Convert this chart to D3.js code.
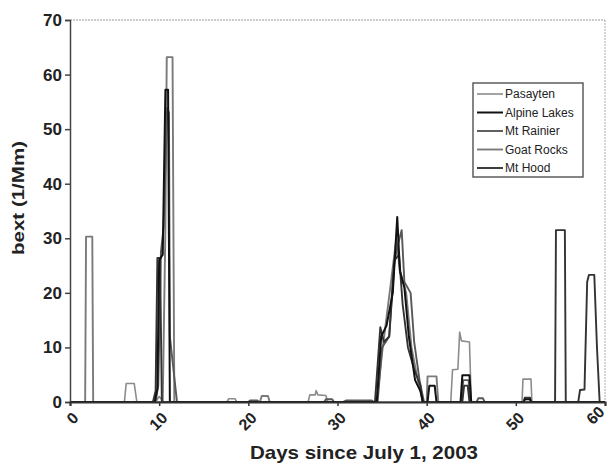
<!DOCTYPE html>
<html>
<head>
<meta charset="utf-8">
<script src="https://cdn.jsdelivr.net/npm/d3@7"></script>
<style>
  body { margin: 0; background: #fff; }
  svg { display: block; font-family: "Liberation Sans", Arial, sans-serif; }
</style>
</head>
<body>
<svg width="610" height="464"></svg>
<script>
// values, [day, bext]
const pasayten = [[0,0],[6.1,0],[6.3,3.4],[7.2,3.4],[7.5,0],[9.6,0],[10.0,1.0],[10.5,0],
  [17.6,0],[17.8,0.6],[18.5,0.6],[18.7,0],[26.7,0],[26.9,1.3],[27.5,1.3],[27.6,2.1],[27.8,1.3],[28.7,1.2],[28.9,0],
  [42.7,0],[42.9,5.9],[43.5,6.0],[43.7,12.8],[43.9,11.2],[44.8,11.0],[45.0,0],
  [50.7,0],[50.8,4.2],[51.7,4.2],[51.8,0],[60,0]];
const alpineLakes = [[0,0],[9.5,0],[9.8,2.5],[10.0,26.0],[10.4,27.0],[10.7,57.2],[11.0,57.2],[11.2,0],
  [34.4,0],[34.9,12.0],[35.5,14.0],[36.2,20.0],[36.7,33.9],[37.0,24.0],[37.5,21.0],[38.0,12.0],[38.7,4.0],[39.3,2.0],[39.6,0],
  [40.1,0],[40.3,3.0],[40.9,3.0],[41.1,0],[43.8,0],[44.0,4.9],[44.8,4.9],[45.0,0],
  [50.9,0],[51.0,0.5],[51.6,0.5],[51.7,0],[60,0]];
const mtRainier = [[0,0],[9.6,0],[9.9,3.0],[10.2,27.5],[10.5,32.0],[10.9,53.9],[11.1,53.0],[11.2,12.0],[11.4,9.0],[12.0,0],
  [20.0,0],[20.2,0.3],[21.0,0.3],[21.2,0],[28.5,0],[28.7,0.5],[29.4,0.5],[29.6,0],[30.6,0],[31.0,0.3],[33.8,0.3],[34.1,0],
  [34.5,0],[35.0,10.0],[35.8,12.0],[36.3,25.0],[36.8,29.0],[37.2,31.5],[37.5,22.0],[38.2,20.0],[38.6,11.0],[39.2,4.0],[39.7,0],
  [43.9,0],[44.1,4.0],[44.7,4.0],[44.9,0],[45.6,0],[45.8,0.7],[46.3,0.7],[46.5,0],[60,0]];
const goatRocks = [[0,0],[1.7,0],[1.8,30.3],[2.5,30.3],[2.6,0],[10.4,0],[10.7,32.0],[10.85,63.2],[11.5,63.2],[11.7,0],
  [21.3,0],[21.5,1.1],[22.2,1.1],[22.4,0],
  [34.4,0],[35.0,9.0],[36.0,22.0],[36.6,30.0],[37.0,24.0],[37.7,20.0],[38.3,10.0],[39.0,4.0],[39.6,0],
  [40.0,0],[40.1,4.7],[41.1,4.7],[41.3,0],[60,0]];
const mtHood = [[0,0],[9.3,0],[9.6,2.0],[9.8,26.4],[10.1,26.4],[10.3,0],
  [34.2,0],[34.8,13.7],[35.2,11.0],[35.8,12.0],[36.4,26.0],[36.9,27.0],[37.3,18.0],[37.9,10.0],[38.6,6.0],[39.3,3.0],[39.5,0],
  [44.0,0],[44.2,3.0],[44.6,3.0],[44.8,0],[50.9,0],[51.0,0.8],[51.6,0.8],[51.7,0],
  [54.4,0],[54.5,31.5],[55.5,31.5],[55.6,0],[57.0,0],[57.2,2.2],[57.7,2.3],[58.0,22.0],[58.2,23.3],[58.8,23.3],[59.1,10.0],[59.4,0],[60,0]];

const seriesNames = ["Pasayten", "Alpine Lakes", "Mt Rainier", "Goat Rocks", "Mt Hood"];
const seriesData = [pasayten, alpineLakes, mtRainier, goatRocks, mtHood];
const seriesColors = ["#8c8c8c", "#111111", "#585858", "#7a7a7a", "#333333"];
const seriesWidths = [1.6, 2, 1.9, 1.9, 1.9];
const xTicks = [0, 10, 20, 30, 40, 50, 60];
const yTicks = [0, 10, 20, 30, 40, 50, 60, 70];

const svg = d3.select("svg");

const x = d3.scaleLinear().domain([0, 60]).range([70, 605]);
const y = d3.scaleLinear().domain([0, 70]).range([402, 20]);

// frame: dotted top + right
svg.append("line")
  .attr("x1", x(0)).attr("x2", x(60)).attr("y1", y(70)).attr("y2", y(70))
  .attr("stroke", "#999").attr("stroke-dasharray", "2,1")
svg.append("line")
  .attr("x1", x(60)).attr("x2", x(60)).attr("y1", y(70)).attr("y2", y(0))
  .attr("stroke", "#aaa").attr("stroke-dasharray", "2,1")

// lines, lighter ones first
const line = d3.line().x(d => x(d[0])).y(d => y(d[1]));
const order = [0, 3, 2, 4, 1];
order.forEach(i => {
  svg.append("path")
    .datum(seriesData[i])
    .attr("fill", "none")
    .attr("stroke", seriesColors[i])
    .attr("stroke-width", seriesWidths[i])
    .attr("stroke-linejoin", "round")
    .attr("d", line)
});

// y axis
const gY = svg.append("g")
  .attr("transform", `translate(${x(0)},0)`)
  .call(d3.axisLeft(y).tickValues(yTicks).tickSize(5).tickPadding(3))
gY.select(".domain").attr("stroke", "#444").attr("stroke-width", 1.5)
gY.selectAll(".tick line").attr("stroke", "#444").attr("stroke-width", 1.5)
gY.selectAll("text")
  .attr("font-size", "17px").attr("font-weight", "bold").attr("fill", "#222")
  .attr("font-family", "Liberation Sans, Arial, sans-serif")

// x axis
const gX = svg.append("g")
  .attr("transform", `translate(0,${y(0)})`)
  .call(d3.axisBottom(x).tickValues(xTicks).tickSize(4))
gX.select(".domain").attr("stroke", "#333").attr("stroke-width", 2)
gX.selectAll(".tick line").attr("stroke", "#333").attr("stroke-width", 1.5)
gX.selectAll("text")
  .attr("font-size", "16px").attr("font-weight", "bold").attr("fill", "#222")
  .attr("font-family", "Liberation Sans, Arial, sans-serif")
  .attr("text-anchor", "end")
  .attr("x", d => d === 60 ? -4 : 5)
  .attr("y", d => d === 60 ? 7 : 13)
  .attr("dy", "0.35em")
  .attr("transform", d => d === 60 ? "rotate(-45, -4, 7)" : "rotate(-45, 5, 13)")

// axis titles
svg.append("text")
  .attr("x", 364).attr("y", 459)
  .attr("text-anchor", "middle")
  .attr("font-size", "19px").attr("font-weight", "bold").attr("fill", "#222")
  .attr("textLength", 228).attr("lengthAdjust", "spacingAndGlyphs")
  .text("Days since July 1, 2003")

svg.append("text")
  .attr("transform", "translate(24,198) rotate(-90)")
  .attr("text-anchor", "middle")
  .attr("font-size", "17px").attr("font-weight", "bold").attr("fill", "#222")
  .attr("textLength", 114).attr("lengthAdjust", "spacingAndGlyphs")
  .text("bext (1/Mm)")

// legend
const legend = svg.append("g").attr("transform", "translate(473,83)")
legend.append("rect")
  .attr("width", 110).attr("height", 94)
  .attr("fill", "#fff").attr("stroke", "#444").attr("stroke-width", 1.3)
seriesNames.forEach((name, i) => {
  const row = legend.append("g").attr("transform", `translate(0,${11 + i * 18.5})`)
  row.append("line")
    .attr("x1", 4).attr("x2", 30)
    .attr("stroke", seriesColors[i]).attr("stroke-width", seriesWidths[i])
  row.append("text")
    .attr("x", 32).attr("dy", "0.35em")
    .attr("font-size", "12px").attr("fill", "#222")
    .text(name)
});
</script>
</body>
</html>
